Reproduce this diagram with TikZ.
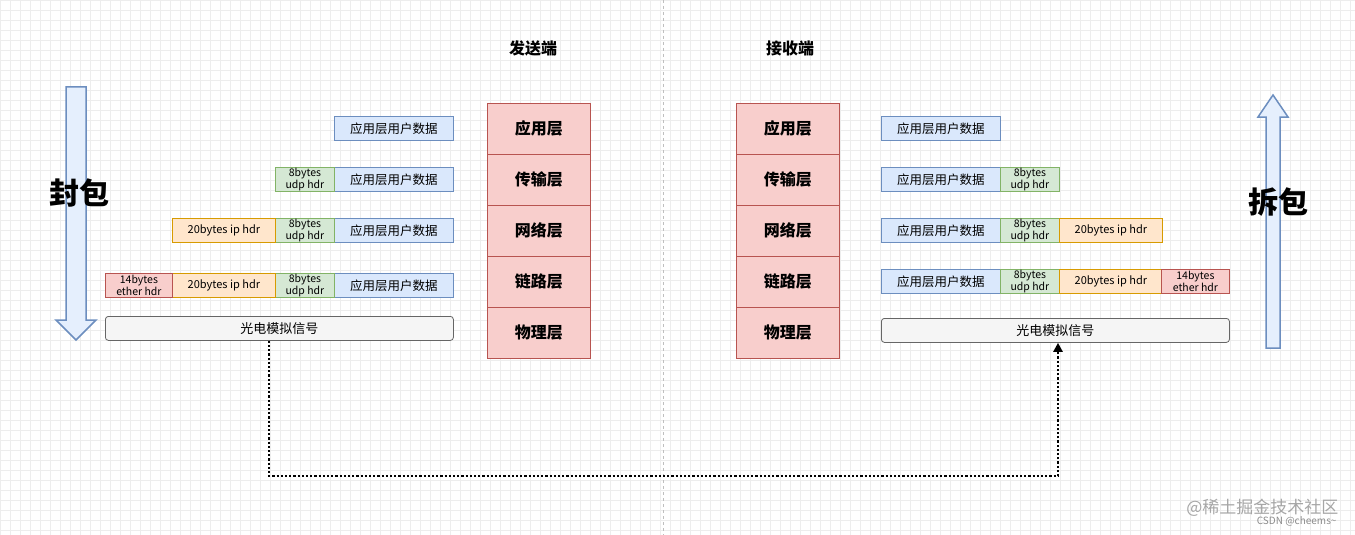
\documentclass[tikz,border=0pt]{standalone}
\usepackage{fontspec}
\setmainfont{Noto Sans CJK SC}
\usetikzlibrary{arrows.meta}
\definecolor{bF}{HTML}{DAE8FC}\definecolor{bS}{HTML}{6C8EBF}
\definecolor{gF}{HTML}{D5E8D4}\definecolor{gS}{HTML}{82B366}
\definecolor{oF}{HTML}{FFE6CC}\definecolor{oS}{HTML}{D79B00}
\definecolor{rF}{HTML}{F8CECC}\definecolor{rS}{HTML}{B85450}
\definecolor{wF}{HTML}{F5F5F5}\definecolor{wS}{HTML}{666666}
\tikzset{
 box/.style={draw, line width=0.8pt, inner sep=0pt, font=\fontsize{12.5}{13}\selectfont, align=center, anchor=north west},
 app/.style={box, fill=bF, draw=bS, minimum width=119pt, minimum height=24pt},
 udp/.style={box, fill=gF, draw=gS, minimum width=59pt, minimum height=24pt, font=\fontsize{10.5}{12}\selectfont},
 ip/.style={box, fill=oF, draw=oS, minimum width=103pt, minimum height=24pt, font=\fontsize{11}{12}\selectfont},
 eth/.style={box, fill=rF, draw=rS, minimum width=67pt, minimum height=24pt, font=\fontsize{10.5}{12}\selectfont},
 sig/.style={box, fill=wF, draw=wS, rounded corners=3pt, minimum width=348pt, minimum height=24pt, font=\fontsize{13}{14}\selectfont},
 layer/.style={draw=rS, fill=rF, line width=0.8pt, minimum width=103pt, minimum height=51pt, inner sep=0pt, anchor=north west, font=\fontsize{16}{17}\selectfont\bfseries},
 title/.style={font=\fontsize{16}{17}\selectfont\bfseries},
 big/.style={font=\fontsize{30}{32}\selectfont\bfseries},
 fat/.style={draw=bS, fill=bF!70, line width=1.5pt},
}
\begin{document}
\begin{tikzpicture}[x=1pt,y=-1pt]
\useasboundingbox (0,0) rectangle (1355,535);
\fill[white] (0,0) rectangle (1355,535);
\foreach \x in {0,10,...,1350} \draw[black!7, line width=0.5pt] (\x,0) -- (\x,535);
\foreach \y in {0,10,...,530} \draw[black!7, line width=0.5pt] (0,\y) -- (1355,\y);
\draw[black!25, dashed, line width=0.5pt] (663,0) -- (663,535);
\node[title] (ts) at (533,48) {发送端};
\node[title] (tr) at (790,48) {接收端};
\foreach \n/\t [count=\i from 0] in {a/应用层,b/传输层,c/网络层,d/链路层,e/物理层}{
 \node[layer] (L\n) at (487,103+51*\i) {\t};
 \node[layer] (R\n) at (736,103+51*\i) {\t};
}
\node[app] (la1) at (334,116) {应用层用户数据};
\node[app] (la2) at (334,167) {应用层用户数据};
\node[udp] (lu2) at (275,167) {8bytes\\udp hdr};
\node[app] (la3) at (334,218) {应用层用户数据};
\node[udp] (lu3) at (275,218) {8bytes\\udp hdr};
\node[ip] (li3) at (172,218) {20bytes ip hdr};
\node[app] (la4) at (334,273) {应用层用户数据};
\node[udp] (lu4) at (275,273) {8bytes\\udp hdr};
\node[ip] (li4) at (172,273) {20bytes ip hdr};
\node[eth] (le4) at (105,273) {14bytes\\ether hdr};
\node[sig] (ls) at (105,316) {光电模拟信号};
\node[app] (ra1) at (881,116) {应用层用户数据};
\node[app] (ra2) at (881,167) {应用层用户数据};
\node[udp] (ru2) at (1000,167) {8bytes\\udp hdr};
\node[app] (ra3) at (881,218) {应用层用户数据};
\node[udp] (ru3) at (1000,218) {8bytes\\udp hdr};
\node[ip] (ri3) at (1059,218) {20bytes ip hdr};
\node[app] (ra4) at (881,269) {应用层用户数据};
\node[udp] (ru4) at (1000,269) {8bytes\\udp hdr};
\node[ip] (ri4) at (1059,269) {20bytes ip hdr};
\node[eth,minimum width=68pt] (re4) at (1161,269) {14bytes\\ether hdr};
\node[sig] (rs) at (881,318) {光电模拟信号};
\draw[fat] (66,87) -- (86,87) -- (86,320) -- (96,320) -- (76,340) -- (56,320) -- (66,320) -- cycle;
\draw[fat] (1266,348) -- (1280,348) -- (1280,117) -- (1288,117) -- (1273,95) -- (1258,117) -- (1266,117) -- cycle;
\node[big] (fb) at (79,193) {封包};
\node[big] (cb) at (1278,202) {拆包};
\coordinate (p1) at (269,476);
\coordinate (p2) at (1058,476);
\draw[line width=2.2pt, dotted, -{Triangle[width=9pt,length=9pt]}] (ls.south -| p1) -- (p1) -- (p2) -- (rs.south -| p2);
\node[text=black!35, font=\fontsize{17}{18}\selectfont, anchor=east] (wm) at (1342,508) {@稀土掘金技术社区};
\node[text=black!45, font=\fontsize{10}{11}\selectfont, anchor=east] (wm2) at (1340,521) {CSDN @cheems\textasciitilde};
\end{tikzpicture}
\end{document}
